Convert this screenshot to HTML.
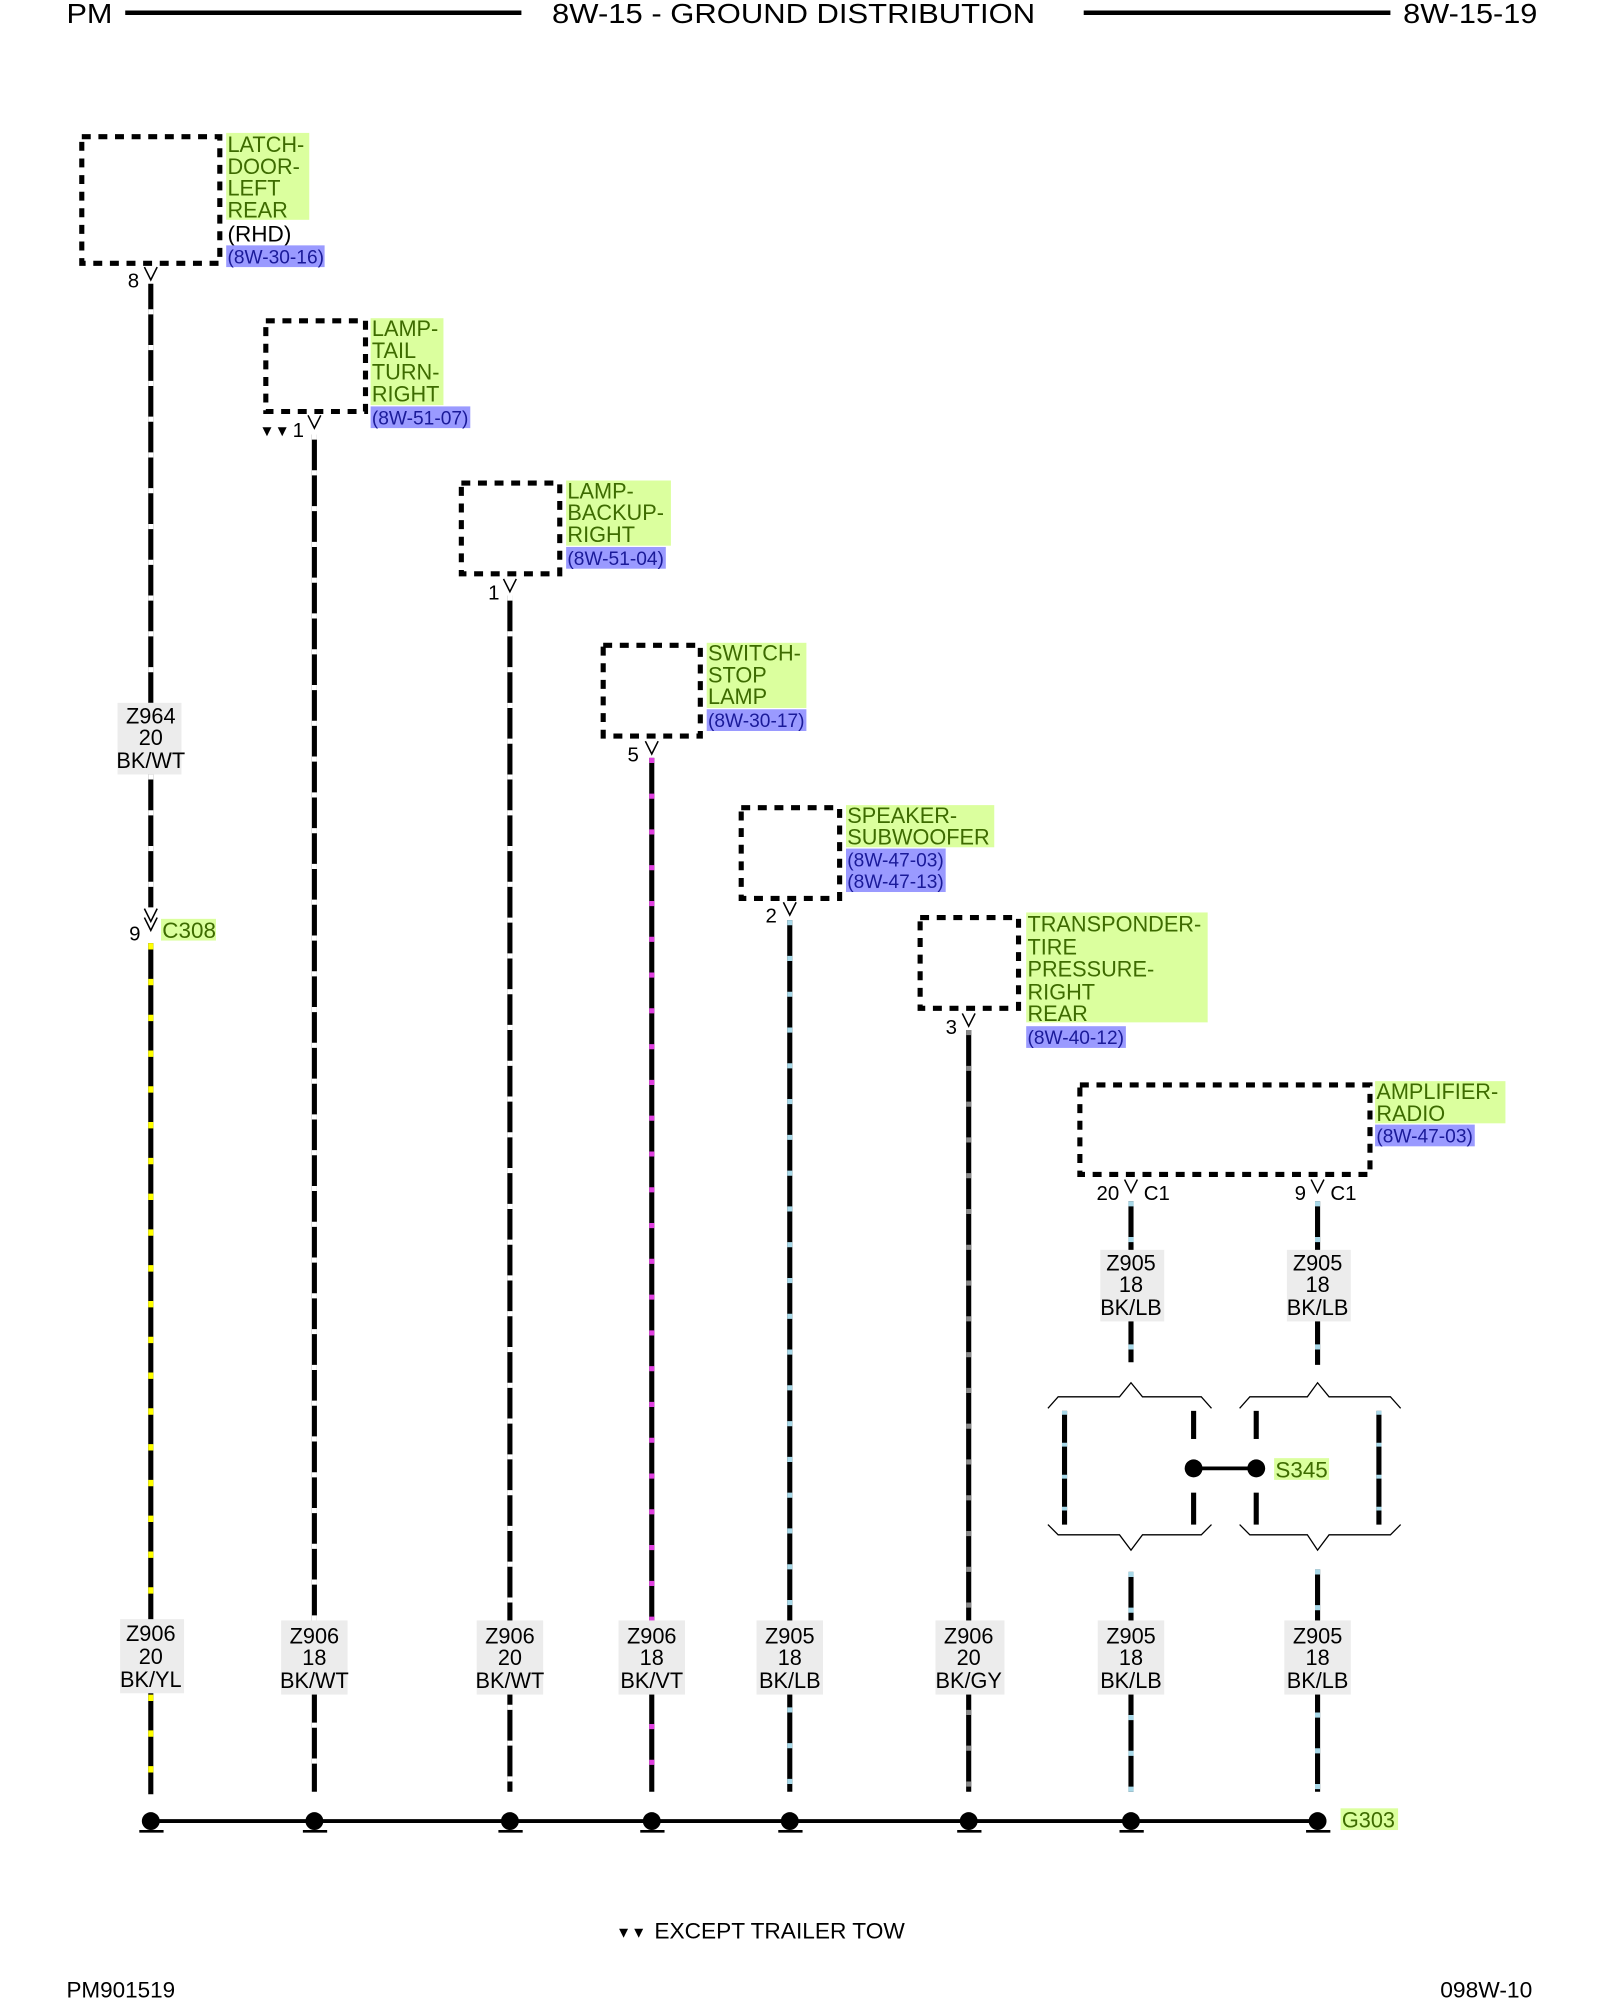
<!DOCTYPE html>
<html><head><meta charset="utf-8"><style>
html,body{margin:0;padding:0;background:#fff;}
svg{display:block;}
text{font-family:"Liberation Sans",sans-serif;}
.g{fill:#3d6b00;font-size:17px;}
.b{fill:#1a1a99;font-size:15px;}
.k{fill:#000;font-size:17px;}
.w{fill:#000;font-size:17px;text-anchor:middle;}
.box{fill:none;stroke:#000;stroke-width:4;stroke-dasharray:7 6;}
.gb{fill:#dbff9e;}
.bb{fill:#9a9aff;}
.lb{fill:#ececec;}
.wire{stroke:#000;stroke-width:4;}
.v{fill:none;stroke:#000;stroke-width:1.2;}
</style></head><body>
<svg width="1600" height="2000" viewBox="0 0 1252 1565" preserveAspectRatio="none" xmlns="http://www.w3.org/2000/svg">
<!-- header -->
<text x="52" y="18" style="font-size:22px" textLength="36" lengthAdjust="spacingAndGlyphs">PM</text>
<line x1="98" y1="10" x2="408" y2="10" stroke="#000" stroke-width="3.5"/>
<text x="432" y="18" style="font-size:22px" textLength="378" lengthAdjust="spacingAndGlyphs">8W-15 - GROUND DISTRIBUTION</text>
<line x1="848" y1="10" x2="1088" y2="10" stroke="#000" stroke-width="3.5"/>
<text x="1098" y="18" style="font-size:22px" textLength="105" lengthAdjust="spacingAndGlyphs">8W-15-19</text>

<!-- wires -->
<g>
<line class="wire" x1="118" y1="222" x2="118" y2="710"/>
<line x1="118" y1="222" x2="118" y2="710" stroke="#fff" stroke-width="4" stroke-dasharray="4 24" stroke-dashoffset="-20"/>
<line class="wire" x1="118" y1="738" x2="118" y2="1404"/>
<line x1="118" y1="738" x2="118" y2="1404" stroke="#ffff00" stroke-width="4" stroke-dasharray="5 23"/>
<line class="wire" x1="246" y1="340" x2="246" y2="1402"/>
<line x1="246" y1="340" x2="246" y2="1402" stroke="#fff" stroke-width="4" stroke-dasharray="4 24"/>
<line class="wire" x1="399" y1="466" x2="399" y2="1402"/>
<line x1="399" y1="466" x2="399" y2="1402" stroke="#fff" stroke-width="4" stroke-dasharray="4 24"/>
<line class="wire" x1="510" y1="593" x2="510" y2="1402"/>
<line x1="510" y1="593" x2="510" y2="1402" stroke="#e040e0" stroke-width="4" stroke-dasharray="4 24"/>
<line class="wire" x1="618" y1="720" x2="618" y2="1402"/>
<line x1="618" y1="720" x2="618" y2="1402" stroke="#a8d8e8" stroke-width="4" stroke-dasharray="4 24"/>
<line class="wire" x1="758" y1="806" x2="758" y2="1402"/>
<line x1="758" y1="806" x2="758" y2="1402" stroke="#888" stroke-width="4" stroke-dasharray="4 24"/>
<line class="wire" x1="885" y1="940" x2="885" y2="1066"/>
<line x1="885" y1="940" x2="885" y2="1066" stroke="#a8d8e8" stroke-width="4" stroke-dasharray="4 24"/>
<line class="wire" x1="1031" y1="940" x2="1031" y2="1068"/>
<line x1="1031" y1="940" x2="1031" y2="1068" stroke="#a8d8e8" stroke-width="4" stroke-dasharray="4 24"/>
<line class="wire" x1="885" y1="1230" x2="885" y2="1402"/>
<line x1="885" y1="1230" x2="885" y2="1402" stroke="#a8d8e8" stroke-width="4" stroke-dasharray="4 24"/>
<line class="wire" x1="1031" y1="1228" x2="1031" y2="1402"/>
<line x1="1031" y1="1228" x2="1031" y2="1402" stroke="#a8d8e8" stroke-width="4" stroke-dasharray="4 24"/>
</g>

<!-- LATCH -->
<rect class="box" x="64" y="107" width="108" height="99"/>
<rect class="gb" x="177" y="104" width="65" height="68"/>
<text class="g" x="178" y="119">LATCH-</text>
<text class="g" x="178" y="136">DOOR-</text>
<text class="g" x="178" y="153">LEFT</text>
<text class="g" x="178" y="170">REAR</text>
<text class="k" x="178" y="189" textLength="50" lengthAdjust="spacingAndGlyphs">(RHD)</text>
<rect class="bb" x="177" y="192" width="77" height="17"/>
<text class="b" x="178" y="206">(8W-30-16)</text>
<text class="k" x="100" y="225" style="font-size:16px">8</text>
<path class="v" d="M113,209 L118,219 L123,209"/>

<!-- LAMP TAIL -->
<rect class="box" x="208" y="251" width="78" height="71"/>
<rect class="gb" x="290" y="249" width="57" height="68"/>
<text class="g" x="291" y="263">LAMP-</text>
<text class="g" x="291" y="280">TAIL</text>
<text class="g" x="291" y="297">TURN-</text>
<text class="g" x="291" y="314">RIGHT</text>
<rect class="bb" x="290" y="318" width="78" height="17"/>
<text class="b" x="291" y="332">(8W-51-07)</text>
<text class="k" x="203" y="341" style="font-size:12px">▼▼</text>
<text class="k" x="229" y="342" style="font-size:16px">1</text>
<path class="v" d="M241,325 L246,335 L251,325"/>

<!-- LAMP BACKUP -->
<rect class="box" x="361" y="378" width="77" height="71"/>
<rect class="gb" x="443" y="376" width="82" height="51"/>
<text class="g" x="444" y="390">LAMP-</text>
<text class="g" x="444" y="407">BACKUP-</text>
<text class="g" x="444" y="424">RIGHT</text>
<rect class="bb" x="443" y="428" width="78" height="17"/>
<text class="b" x="444" y="442">(8W-51-04)</text>
<text class="k" x="382" y="469" style="font-size:16px">1</text>
<path class="v" d="M394,453 L399,463 L404,453"/>

<!-- SWITCH -->
<rect class="box" x="472" y="505" width="76" height="71"/>
<rect class="gb" x="553" y="503" width="78" height="51"/>
<text class="g" x="554" y="517">SWITCH-</text>
<text class="g" x="554" y="534">STOP</text>
<text class="g" x="554" y="551">LAMP</text>
<rect class="bb" x="553" y="555" width="78" height="17"/>
<text class="b" x="554" y="569">(8W-30-17)</text>
<text class="k" x="491" y="596" style="font-size:16px">5</text>
<path class="v" d="M505,580 L510,590 L515,580"/>

<!-- SPEAKER -->
<rect class="box" x="580" y="632" width="77" height="71"/>
<rect class="gb" x="662" y="630" width="116" height="33"/>
<text class="g" x="663" y="644">SPEAKER-</text>
<text class="g" x="663" y="661">SUBWOOFER</text>
<rect class="bb" x="662" y="664" width="78" height="34"/>
<text class="b" x="663" y="678">(8W-47-03)</text>
<text class="b" x="663" y="695">(8W-47-13)</text>
<text class="k" x="599" y="722" style="font-size:16px">2</text>
<path class="v" d="M613,706 L618,716 L623,706"/>

<!-- TRANSPONDER -->
<rect class="box" x="720" y="718" width="77" height="71"/>
<rect class="gb" x="803" y="714" width="142" height="86"/>
<text class="g" x="804" y="729">TRANSPONDER-</text>
<text class="g" x="804" y="747">TIRE</text>
<text class="g" x="804" y="764">PRESSURE-</text>
<text class="g" x="804" y="782">RIGHT</text>
<text class="g" x="804" y="799">REAR</text>
<rect class="bb" x="803" y="803" width="78" height="17"/>
<text class="b" x="804" y="817">(8W-40-12)</text>
<text class="k" x="740" y="809" style="font-size:16px">3</text>
<path class="v" d="M753,793 L758,803 L763,793"/>

<!-- AMPLIFIER -->
<rect class="box" x="845" y="849" width="227" height="70"/>
<rect class="gb" x="1076" y="846" width="102" height="33"/>
<text class="g" x="1077" y="860">AMPLIFIER-</text>
<text class="g" x="1077" y="877">RADIO</text>
<rect class="bb" x="1076" y="880" width="78" height="17"/>
<text class="b" x="1077" y="894">(8W-47-03)</text>
<text class="k" x="858" y="939" style="font-size:16px">20</text>
<path class="v" d="M880,923 L885,933 L890,923"/>
<text class="k" x="895" y="939" style="font-size:16px">C1</text>
<text class="k" x="1013" y="939" style="font-size:16px">9</text>
<path class="v" d="M1026,923 L1031,933 L1036,923"/>
<text class="k" x="1041" y="939" style="font-size:16px">C1</text>

<!-- C308 -->
<path class="v" d="M113,711 L118,721 L123,711 M113,718 L118,728 L123,718"/>
<text class="k" x="101" y="736" style="font-size:16px">9</text>
<rect class="gb" x="126" y="719" width="43" height="17"/>
<text class="g" x="127" y="734" textLength="42" lengthAdjust="spacingAndGlyphs">C308</text>

<!-- wire labels -->
<g>
<rect class="lb" x="92" y="550" width="50" height="56"/>
<text class="w" x="118" y="566">Z964</text><text class="w" x="118" y="583">20</text><text class="w" x="118" y="601">BK/WT</text>

<rect class="lb" x="861" y="978" width="50" height="56"/>
<text class="w" x="885" y="994">Z905</text><text class="w" x="885" y="1011">18</text><text class="w" x="885" y="1029">BK/LB</text>
<rect class="lb" x="1007" y="978" width="50" height="56"/>
<text class="w" x="1031" y="994">Z905</text><text class="w" x="1031" y="1011">18</text><text class="w" x="1031" y="1029">BK/LB</text>

<rect class="lb" x="94" y="1267" width="50" height="58"/>
<text class="w" x="118" y="1284">Z906</text><text class="w" x="118" y="1302">20</text><text class="w" x="118" y="1320">BK/YL</text>
<rect class="lb" x="220" y="1268" width="52" height="58"/>
<text class="w" x="246" y="1286">Z906</text><text class="w" x="246" y="1303">18</text><text class="w" x="246" y="1321">BK/WT</text>
<rect class="lb" x="373" y="1268" width="52" height="58"/>
<text class="w" x="399" y="1286">Z906</text><text class="w" x="399" y="1303">20</text><text class="w" x="399" y="1321">BK/WT</text>
<rect class="lb" x="484" y="1268" width="52" height="58"/>
<text class="w" x="510" y="1286">Z906</text><text class="w" x="510" y="1303">18</text><text class="w" x="510" y="1321">BK/VT</text>
<rect class="lb" x="592" y="1268" width="52" height="58"/>
<text class="w" x="618" y="1286">Z905</text><text class="w" x="618" y="1303">18</text><text class="w" x="618" y="1321">BK/LB</text>
<rect class="lb" x="732" y="1268" width="54" height="58"/>
<text class="w" x="758" y="1286">Z906</text><text class="w" x="758" y="1303">20</text><text class="w" x="758" y="1321">BK/GY</text>
<rect class="lb" x="859" y="1268" width="52" height="58"/>
<text class="w" x="885" y="1286">Z905</text><text class="w" x="885" y="1303">18</text><text class="w" x="885" y="1321">BK/LB</text>
<rect class="lb" x="1005" y="1268" width="52" height="58"/>
<text class="w" x="1031" y="1286">Z905</text><text class="w" x="1031" y="1303">18</text><text class="w" x="1031" y="1321">BK/LB</text>
</g>

<!-- splice braces -->
<g fill="none" stroke="#000" stroke-width="1">
<path d="M820,1102 L828,1093 L876,1093 L885,1082 L894,1093 L940,1093 L948,1102"/>
<path d="M970,1102 L978,1093 L1023,1093 L1031,1082 L1040,1093 L1088,1093 L1096,1102"/>
<path d="M820,1193 L828,1201 L876,1201 L885,1213 L894,1201 L940,1201 L948,1193"/>
<path d="M970,1193 L978,1201 L1023,1201 L1031,1213 L1040,1201 L1088,1201 L1096,1193"/>
</g>
<g>
<line class="wire" x1="833" y1="1104" x2="833" y2="1193"/>
<line x1="833" y1="1104" x2="833" y2="1193" stroke="#a8d8e8" stroke-width="4" stroke-dasharray="3 22"/>
<line class="wire" x1="1079" y1="1104" x2="1079" y2="1193"/>
<line x1="1079" y1="1104" x2="1079" y2="1193" stroke="#a8d8e8" stroke-width="4" stroke-dasharray="3 22"/>
<line class="wire" x1="934" y1="1104" x2="934" y2="1126"/>
<line class="wire" x1="934" y1="1168" x2="934" y2="1193"/>
<line class="wire" x1="983" y1="1104" x2="983" y2="1126"/>
<line class="wire" x1="983" y1="1168" x2="983" y2="1193"/>
<line x1="934" y1="1149" x2="983" y2="1149" stroke="#000" stroke-width="3"/>
<circle cx="934" cy="1149" r="7"/>
<circle cx="983" cy="1149" r="7"/>
<rect class="gb" x="997" y="1141" width="43" height="17"/>
<text class="g" x="998" y="1156" textLength="41" lengthAdjust="spacingAndGlyphs">S345</text>
</g>

<!-- ground bus -->
<line x1="118" y1="1425" x2="1031" y2="1425" stroke="#000" stroke-width="3"/>
<g>
<circle cx="118" cy="1425" r="7"/><line x1="109" y1="1433" x2="128" y2="1433" stroke="#000" stroke-width="2"/>
<circle cx="246" cy="1425" r="7"/><line x1="237" y1="1433" x2="256" y2="1433" stroke="#000" stroke-width="2"/>
<circle cx="399" cy="1425" r="7"/><line x1="390" y1="1433" x2="409" y2="1433" stroke="#000" stroke-width="2"/>
<circle cx="510" cy="1425" r="7"/><line x1="501" y1="1433" x2="520" y2="1433" stroke="#000" stroke-width="2"/>
<circle cx="618" cy="1425" r="7"/><line x1="609" y1="1433" x2="628" y2="1433" stroke="#000" stroke-width="2"/>
<circle cx="758" cy="1425" r="7"/><line x1="749" y1="1433" x2="768" y2="1433" stroke="#000" stroke-width="2"/>
<circle cx="885" cy="1425" r="7"/><line x1="876" y1="1433" x2="895" y2="1433" stroke="#000" stroke-width="2"/>
<circle cx="1031" cy="1425" r="7"/><line x1="1022" y1="1433" x2="1041" y2="1433" stroke="#000" stroke-width="2"/>
</g>
<rect class="gb" x="1049" y="1415" width="45" height="17"/>
<text class="g" x="1050" y="1430">G303</text>

<text class="k" x="482" y="1516" style="font-size:12px">▼▼</text>
<text class="k" x="512" y="1517" textLength="196" lengthAdjust="spacingAndGlyphs">EXCEPT TRAILER TOW</text>
<text class="k" x="52" y="1563" style="font-size:17px" textLength="85" lengthAdjust="spacingAndGlyphs">PM901519</text>
<text class="k" x="1127" y="1563" style="font-size:17px" textLength="72" lengthAdjust="spacingAndGlyphs">098W-10</text>
</svg>
</body></html>
